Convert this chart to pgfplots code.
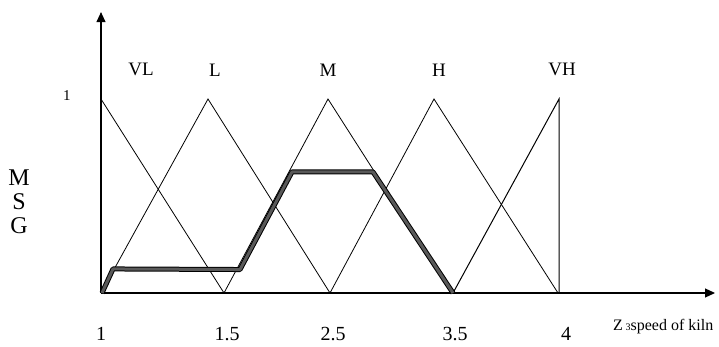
\documentclass[border=0pt]{standalone}
\usepackage{pgfplots}
\pgfplotsset{compat=1.18}
\usepackage{fontspec}
\setmainfont{Liberation Serif}
\usetikzlibrary{arrows.meta}

\begin{document}
\begin{tikzpicture}
\begin{axis}[x=1pt,y=194pt,
    xmin=101,xmax=715,ymin=0,ymax=1.448,
    axis lines=left,clip=false,
    axis line style={line width=1.1pt,-{Triangle[length=10pt,width=9pt]}},
    xtick={101,227,333,455,566},
    xticklabels={1,1.5,2.5,3.5,4},
    ytick={1},yticklabels={1},
    major tick length=0pt,
    xticklabel style={font=\fontsize{20}{22}\selectfont,anchor=base,inner sep=0pt,yshift=-47pt},
    yticklabel style={font=\fontsize{15}{17}\selectfont,anchor=center,xshift=-34pt,yshift=3pt}]
% membership functions
\addplot[black,line width=0.8pt] coordinates {(101,1) (224,0)};
\addplot[black,line width=0.8pt] coordinates {(101,0) (208,1) (330,0)};
\addplot[black,line width=0.8pt] coordinates {(224,0) (328,1) (452,0)};
\addplot[black,line width=0.8pt] coordinates {(330,0) (434,1) (558,0)};
\addplot[black,line width=1pt] coordinates {(453,0) (559,1) (559,0)};
% aggregated output
\addplot[black,line width=5pt,line join=round] coordinates
  {(102,0) (113,0.124) (240,0.121) (292,0.624) (373,0.624) (453,0)};
\addplot[gray!70!black,line width=3pt,line join=round] coordinates
  {(102,0) (113,0.124) (240,0.121) (292,0.624) (373,0.624) (453,0)};
% set labels
\node[font=\fontsize{19}{21}\selectfont] at (axis cs:141,1.15) {VL};
\node[font=\fontsize{19}{21}\selectfont] at (axis cs:215,1.15) {L};
\node[font=\fontsize{19}{21}\selectfont] at (axis cs:328,1.15) {M};
\node[font=\fontsize{19}{21}\selectfont] at (axis cs:439,1.15) {H};
\node[font=\fontsize{19}{21}\selectfont] at (axis cs:562,1.15) {VH};
\node[font=\fontsize{24}{29}\selectfont,align=center] at (axis cs:19,0.47) {M\\[-5pt]S\\[-5pt]G};
\node[font=\fontsize{16}{18}\selectfont,anchor=west,inner sep=0pt] at (axis cs:613,-0.175) {Z\,{\fontsize{10}{11}\selectfont 3}speed of kiln};
\coordinate (bl) at (axis cs:0,-0.2732);
\coordinate (tr) at (axis cs:719,1.5103);
\end{axis}
\pgfresetboundingbox
\path[use as bounding box] (bl) rectangle (tr);
\end{tikzpicture}
\end{document}
